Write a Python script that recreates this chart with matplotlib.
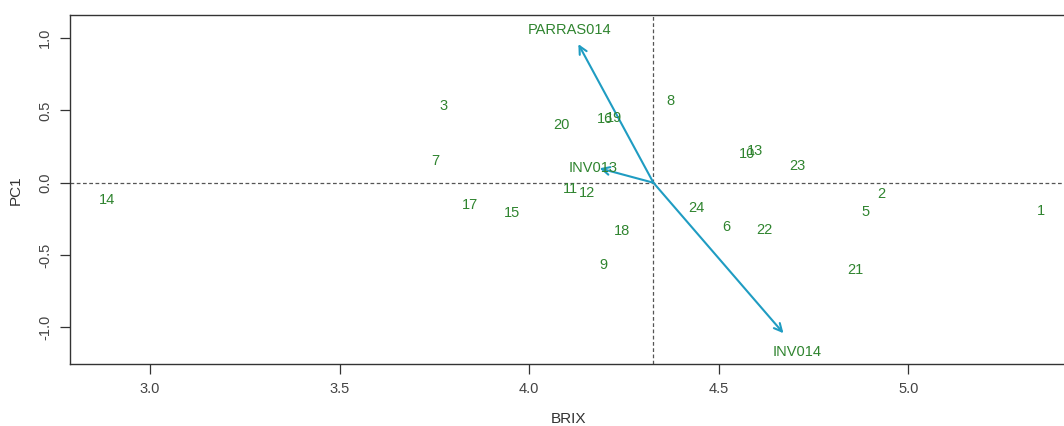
"""
Biplot of BRIX vs PC1 with variable arrows (R-style look).
"""

import matplotlib
matplotlib.use("Agg")
import matplotlib.pyplot as plt

plt.rcParams["font.family"] = ["Liberation Sans", "DejaVu Sans"]

# sample labels and positions
labels = ["1", "2", "3", "5", "6", "7", "8", "9", "10", "11", "12", "13",
          "14", "15", "16", "17", "18", "19", "20", "21", "22", "23", "24"]
brix = [5.350, 4.928, 3.774, 4.887, 4.519, 3.752, 4.372, 4.196, 4.574, 4.108,
        4.154, 4.596, 2.887, 3.956, 4.199, 3.844, 4.245, 4.223, 4.086, 4.862,
        4.620, 4.708, 4.442]
pc1 = [-0.196, -0.078, 0.530, -0.200, -0.304, 0.150, 0.565, -0.569, 0.198,
       -0.044, -0.073, 0.219, -0.120, -0.212, 0.440, -0.154, -0.332, 0.445,
       0.399, -0.604, -0.327, 0.118, -0.177]

# variable arrows (origin at the mean)
origin = (4.328, 0.0)
var_names = ["PARRAS014", "INV013", "INV014"]
var_tip_x = [4.130, 4.186, 4.671]
var_tip_y = [0.959, 0.100, -1.041]
var_lab_x = [4.106, 4.168, 4.706]
var_lab_y = [1.056, 0.104, -1.173]

x_ticks = [3.0, 3.5, 4.0, 4.5, 5.0]
y_ticks = [-1.0, -0.5, 0.0, 0.5, 1.0]

TEXT_GREEN = "#2f842f"
ARROW_BLUE = "#1f9cc2"
AXIS_GREY = "#333333"

fig = plt.figure(figsize=(10.64, 4.26), dpi=100)
ax = fig.add_axes([0.0658, 0.1448, 0.9372, 0.8192])

ax.set_xlim(2.789, 5.4195)
ax.set_ylim(-1.256, 1.158)

# reference lines
ax.axhline(0, color="#555555", lw=0.9, ls=(0, (3, 2)), zorder=1)
ax.axvline(origin[0], color="#555555", lw=0.9, ls=(0, (3, 2)), zorder=1)

# sample labels
for lab, x, y in zip(labels, brix, pc1):
    ax.text(x, y, lab, color=TEXT_GREEN, fontsize=10.5,
            ha="center", va="center", zorder=3)

# arrows and variable labels
for name, tx, ty, lx, ly in zip(var_names, var_tip_x, var_tip_y,
                                var_lab_x, var_lab_y):
    ax.annotate("", xy=(tx, ty), xytext=origin,
                arrowprops=dict(arrowstyle="->", color=ARROW_BLUE, lw=1.5,
                                mutation_scale=14, shrinkA=0, shrinkB=0),
                zorder=2)
    ax.text(lx, ly, name, color=TEXT_GREEN, fontsize=10.5,
            ha="center", va="center", zorder=3)

ax.set_xticks(x_ticks)
ax.set_xticklabels([f"{v:.1f}" for v in x_ticks])
ax.set_yticks(y_ticks)
ax.set_yticklabels([f"{v:.1f}" for v in y_ticks], rotation=90, va="center")

ax.tick_params(colors=AXIS_GREY, labelcolor="#444444", labelsize=10.5,
               length=7, width=0.9, pad=6)
for side in ["left", "bottom", "top", "right"]:
    ax.spines[side].set_color(AXIS_GREY)
    ax.spines[side].set_linewidth(1.0)

ax.set_xlabel("BRIX", fontsize=11, color="#333333", labelpad=11)
ax.set_ylabel("PC1", fontsize=11, color="#333333", labelpad=11)

fig.savefig("out.png", dpi=100)
